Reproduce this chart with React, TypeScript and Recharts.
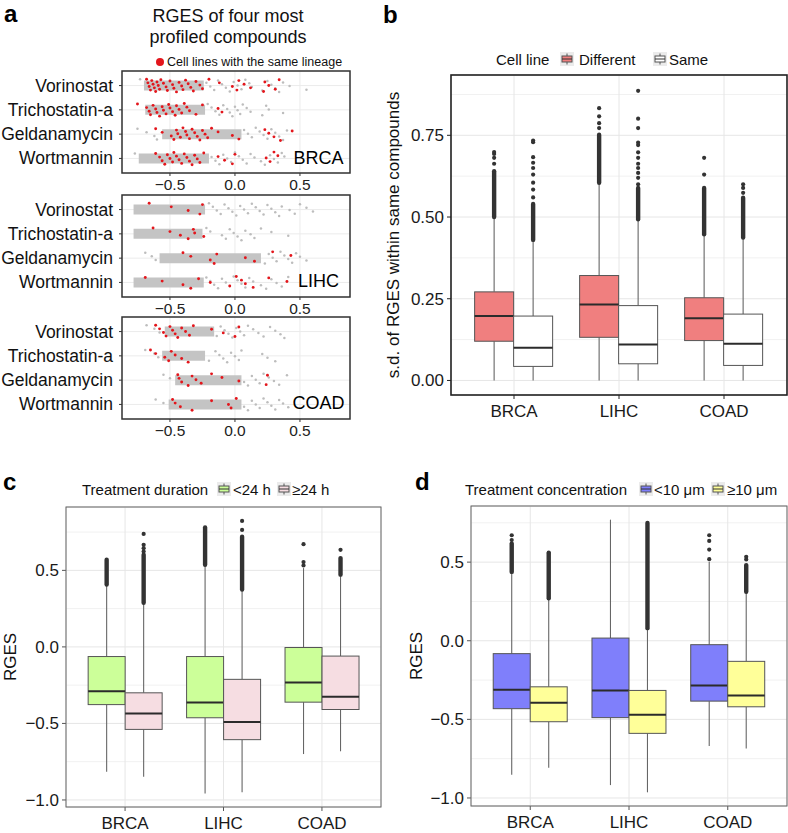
import React from 'react';
import { ComposedChart, ScatterChart, Scatter, Bar, XAxis, YAxis, CartesianGrid } from 'recharts';

const FONT = '"Liberation Sans", Arial, Helvetica, sans-serif';

const compounds = ['Vorinostat', 'Trichostatin-a', 'Geldanamycin', 'Wortmannin'];
const cancers = ['BRCA', 'LIHC', 'COAD'];

// ---- panel a: RGES per compound, dense core range + loose grey points + red (same lineage) points
const brcaCore = [[-0.70, -0.24], [-0.69, -0.23], [-0.56, 0.05], [-0.74, -0.20]];
const brcaGrey = [
  [-0.73, -0.22, -0.19, -0.16, -0.13, -0.10, -0.07, -0.04, -0.01, 0.02, 0.05, 0.08, 0.11, 0.13, 0.21, 0.25, 0.28, 0.31, 0.34, 0.37, 0.42, 0.55],
  [-0.21, -0.18, -0.15, -0.12, -0.09, -0.06, -0.04, -0.02, 0.0, 0.02, 0.04, 0.06, 0.09, 0.12, 0.21, 0.24, 0.26, 0.37],
  [-0.75, -0.68, -0.62, -0.60, 0.07, 0.10, 0.13, 0.16, 0.19, 0.22, 0.25, 0.28, 0.31, 0.34, 0.37, 0.40],
  [-0.77, -0.18, -0.15, -0.12, -0.09, -0.06, -0.03, 0.0, 0.03, 0.06, 0.09, 0.12, 0.15, 0.20, 0.23, 0.27, 0.30, 0.33, 0.36, 0.38],
];
const brcaRed = [
  [-0.68, -0.67, -0.66, -0.65, -0.64, -0.63, -0.62, -0.61, -0.60, -0.59, -0.58, -0.57, -0.55, -0.53, -0.52, -0.50, -0.48, -0.47, -0.45, -0.43, -0.41, -0.40, -0.38, -0.36, -0.34, -0.32, -0.30, -0.27, -0.25, -0.20, -0.12, -0.02, 0.015, 0.03, 0.07, 0.12, 0.22, 0.23, 0.26, 0.31, 0.34],
  [-0.75, -0.68, -0.66, -0.65, -0.63, -0.61, -0.60, -0.58, -0.56, -0.55, -0.53, -0.51, -0.50, -0.48, -0.46, -0.45, -0.43, -0.41, -0.39, -0.37, -0.35, -0.30, -0.25, -0.13, -0.10],
  [-0.61, -0.56, -0.49, -0.47, -0.45, -0.44, -0.42, -0.40, -0.38, -0.37, -0.35, -0.33, -0.31, -0.29, -0.27, -0.25, -0.23, -0.21, -0.18, -0.13, -0.02, 0.03, 0.23, 0.26, 0.30, 0.35, 0.44],
  [-0.61, -0.58, -0.56, -0.54, -0.52, -0.50, -0.48, -0.47, -0.45, -0.43, -0.41, -0.39, -0.37, -0.35, -0.33, -0.31, -0.29, -0.27, -0.24, -0.13, -0.08, -0.02, 0.0, 0.24, 0.27, 0.30, 0.33],
];

const lihcCore = [[-0.78, -0.23], [-0.78, -0.25], [-0.58, 0.20], [-0.78, -0.24]];
const lihcGrey = [
  [-0.20, -0.17, -0.14, -0.11, -0.08, -0.05, -0.02, 0.01, 0.04, 0.07, 0.10, 0.13, 0.16, 0.19, 0.22, 0.25, 0.28, 0.31, 0.34, 0.36, 0.42, 0.46, 0.50, 0.55, 0.60],
  [-0.22, -0.19, -0.10, -0.07, -0.04, -0.01, 0.02, 0.05, 0.08, 0.12, 0.15, 0.20, 0.28, 0.41],
  [-0.69, -0.64, -0.61, 0.23, 0.26, 0.29, 0.32, 0.35, 0.38, 0.41, 0.44, 0.47, 0.50, 0.55],
  [-0.22, -0.19, -0.16, -0.13, -0.10, -0.07, -0.04, -0.01, 0.02, 0.05, 0.08, 0.11, 0.14, 0.20, 0.24, 0.28, 0.32, 0.36, 0.41],
];
const lihcRed = [
  [-0.66, -0.49, -0.36, -0.27, -0.25],
  [-0.63, -0.50, -0.42, -0.36, -0.32, -0.31, -0.24],
  [-0.40, -0.34, -0.19, -0.16, -0.14, 0.08, 0.15, 0.29, 0.43],
  [-0.69, -0.56, -0.40, -0.34, -0.28, -0.19, -0.04, 0.01, 0.05, 0.08, 0.14, 0.26, 0.40],
];

const coadCore = [[-0.54, -0.16], [-0.56, -0.23], [-0.46, 0.05], [-0.51, 0.05]];
const coadGrey = [
  [-0.68, -0.62, -0.58, -0.14, -0.11, -0.08, -0.05, -0.02, 0.01, 0.04, 0.07, 0.10, 0.14, 0.18, 0.22, 0.27, 0.31, 0.35, 0.38],
  [-0.69, -0.62, -0.59, -0.20, -0.15, -0.12, -0.09, -0.06, -0.03, 0.0, 0.03, 0.05, 0.21, 0.25, 0.31],
  [-0.55, -0.50, 0.07, 0.10, 0.13, 0.16, 0.19, 0.22, 0.26, 0.30, 0.34, 0.40],
  [-0.61, -0.55, 0.07, 0.10, 0.13, 0.16, 0.19, 0.22, 0.25, 0.28, 0.31, 0.34, 0.37, 0.41],
];
const coadRed = [
  [-0.61, -0.58, -0.55, -0.53, -0.50, -0.48, -0.46, -0.44, -0.41, -0.38, -0.35, -0.32, -0.18, -0.09, 0.0, 0.03],
  [-0.65, -0.61, -0.54, -0.51, -0.49, -0.46, -0.41, -0.36],
  [-0.44, -0.43, -0.41, -0.36, -0.33, -0.30, -0.26, -0.18, -0.10, 0.03, 0.24, 0.25],
  [-0.48, -0.46, -0.42, -0.33, -0.18, -0.05, -0.03, 0.01],
];

const stripTicks = [-0.5, 0, 0.5];

// ---- boxplots: [whiskerLow, q1, median, q3, whiskerHigh], dense outlier run [lo, hi], single outliers
const sdDiffStats = [[0, 0.12, 0.197, 0.271, 0.5], [0, 0.132, 0.232, 0.321, 0.605], [0, 0.122, 0.19, 0.253, 0.447]];
const sdDiffDense = [[0.5, 0.64], [0.605, 0.752], [0.447, 0.589]];
const sdDiffOut = [[0.663, 0.681, 0.693, 0.699], [0.772, 0.787, 0.808, 0.833], [0.63, 0.681]];
const sdSameStats = [[0, 0.043, 0.1, 0.197, 0.43], [0, 0.051, 0.11, 0.229, 0.493], [0, 0.046, 0.112, 0.203, 0.437]];
const sdSameDense = [[0.43, 0.54], [0.493, 0.589], [0.437, 0.559]];
const sdSameOut = [
  [0.56, 0.584, 0.605, 0.63, 0.65, 0.666, 0.683, 0.729, 0.734],
  [0.6, 0.62, 0.635, 0.65, 0.663, 0.681, 0.698, 0.72, 0.728, 0.772, 0.801, 0.886],
  [0.574, 0.589, 0.6],
];
const sdTicks = [0, 0.25, 0.5, 0.75];
const sdMinor = [0.125, 0.375, 0.625, 0.875];

const durShortStats = [[-0.816, -0.377, -0.29, -0.063, 0.407], [-0.957, -0.463, -0.364, -0.063, 0.537], [-0.70, -0.361, -0.232, -0.004, 0.515]];
const durShortDense = [[0.407, 0.569], [0.537, 0.78], null];
const durShortOut = [[], [], [0.532, 0.554, 0.671]];
const durLongStats = [[-0.849, -0.539, -0.435, -0.30, 0.288], [-0.95, -0.606, -0.491, -0.212, 0.375], [-0.682, -0.409, -0.325, -0.06, 0.472]];
const durLongDense = [[0.288, 0.602], [0.375, 0.72], [0.472, 0.58]];
const durLongOut = [[0.623, 0.645, 0.667, 0.738], [0.764, 0.823], [0.634]];

const concLowStats = [[-0.852, -0.432, -0.312, -0.082, 0.438], [-0.918, -0.489, -0.316, 0.017, 0.77], [-0.669, -0.384, -0.285, -0.025, 0.502]];
const concLowDense = [[0.438, 0.618], null, null];
const concLowOut = [[0.64, 0.671], [], [0.519, 0.58, 0.635, 0.671]];
const concHighStats = [[-0.808, -0.515, -0.394, -0.293, 0.27], [-0.964, -0.589, -0.47, -0.316, 0.08], [-0.685, -0.42, -0.348, -0.131, 0.312]];
const concHighDense = [[0.27, 0.555], [0.08, 0.749], [0.312, 0.481]];
const concHighOut = [[0.561], [], [0.517, 0.534]];

const rgesTicks = [-1, -0.5, 0, 0.5];
const rgesMinor = [-0.75, -0.25, 0.25, 0.75];

type BoxSeries = { stats: number[]; dense: number[] | null; out: number[] };

const fmt = (digits: number) => (v: number) => (v < 0 ? '\u2212' : '') + Math.abs(v).toFixed(digits);

// deterministic vertical spread for the strip plot
const jitter = (i: number) => ((((i * 37) % 29) / 28) - 0.5) * 0.52;

const toPoints = (rows: number[][]) =>
  rows.flatMap((vals, r) => vals.map((x, i) => ({ x, y: r + 1 + jitter(i + r * 11) })));

const GreyDot = (p: any) => <circle cx={p.cx} cy={p.cy} r={1.25} fill="#bdbdbd" />;
const RedDot = (p: any) => <circle cx={p.cx} cy={p.cy} r={1.45} fill="#e3161c" />;

const CompoundTick = (p: any) => (
  <text x={p.x} y={p.y} dy={6} textAnchor="end" fontSize={17.5} fill="#111" fontFamily={FONT}>
    {compounds[p.payload.value - 1]}
  </text>
);

function StripPanel({ top, core, grey, red }: { top: number; core: number[][]; grey: number[][]; red: number[][] }) {
  return (
    <div style={{ position: 'absolute', left: 0, top: top - 4 }}>
      <ScatterChart width={360} height={130} margin={{ top: 4, right: 10, bottom: 0, left: 0 }}>
        <CartesianGrid stroke="#ebebeb" />
        <XAxis
          type="number"
          dataKey="x"
          domain={[-0.869, 0.885]}
          ticks={stripTicks}
          interval={0}
          allowDataOverflow
          tickFormatter={fmt(1)}
          tickSize={3}
          tickMargin={3}
          height={24}
          axisLine={false}
          tickLine={{ stroke: '#333' }}
          tick={{ fontSize: 15.5, fill: '#222', fontFamily: FONT }}
        />
        <YAxis
          type="number"
          dataKey="y"
          domain={[0.4, 4.6]}
          reversed
          ticks={[1, 2, 3, 4]}
          interval={0}
          allowDataOverflow
          width={122}
          tickSize={3}
          tickMargin={6}
          axisLine={false}
          tickLine={{ stroke: '#333' }}
          tick={CompoundTick}
        />
        {core.map(([lo, hi], r) => (
          <Scatter
            key={'core' + r}
            data={[{ x: lo, y: r + 1 }, { x: hi, y: r + 1 }]}
            line={{ stroke: '#c4c4c4', strokeWidth: 10 }}
            shape={() => <g />}
            isAnimationActive={false}
          />
        ))}
        <Scatter data={toPoints(grey)} shape={GreyDot} isAnimationActive={false} />
        <Scatter data={toPoints(red)} shape={RedDot} isAnimationActive={false} />
      </ScatterChart>
    </div>
  );
}

const topOf = (s: BoxSeries) => Math.max(s.stats[4], s.dense ? s.dense[1] : -Infinity, ...s.out);

const boxShape = (side: 'left' | 'right', fill: string) => (props: any) => {
  const { x, y, width, height, payload } = props;
  const s: BoxSeries = payload[side];
  const lo = s.stats[0];
  const hi = topOf(s);
  const toY = (v: number) => y + ((hi - v) / (hi - lo)) * height;
  const cx = x + width / 2;
  const [wl, q1, med, q3, wh] = s.stats;
  return (
    <g>
      <line x1={cx} x2={cx} y1={toY(wl)} y2={toY(q1)} stroke="#666" strokeWidth={1.1} />
      <line x1={cx} x2={cx} y1={toY(q3)} y2={toY(wh)} stroke="#666" strokeWidth={1.1} />
      <rect x={x} y={toY(q3)} width={width} height={toY(q1) - toY(q3)} fill={fill} stroke="#555" strokeWidth={1} />
      <line x1={x} x2={x + width} y1={toY(med)} y2={toY(med)} stroke="#2b2b2b" strokeWidth={2} />
      {s.dense && (
        <rect
          x={cx - 2.2}
          width={4.4}
          y={toY(s.dense[1]) - 2.2}
          height={toY(s.dense[0]) - toY(s.dense[1]) + 4.4}
          rx={2.2}
          fill="#333"
        />
      )}
      {s.out.map((v, i) => (
        <circle key={i} cx={cx} cy={toY(v)} r={2.1} fill="#333" />
      ))}
    </g>
  );
};

const buildRows = (
  lStats: number[][], lDense: (number[] | null)[], lOut: number[][],
  rStats: number[][], rDense: (number[] | null)[], rOut: number[][],
) =>
  cancers.map((cancer, i) => ({
    cancer,
    left: { stats: lStats[i], dense: lDense[i], out: lOut[i] },
    right: { stats: rStats[i], dense: rDense[i], out: rOut[i] },
  }));

function BoxPanel(props: {
  left: number; top: number; width: number; height: number; yAxisWidth: number; marginRight: number; plotW: number;
  domain: number[]; ticks: number[]; minor: number[]; digits: number; rows: any[]; fills: string[]; tickColor: string;
}) {
  const { left, top, width, height, yAxisWidth, marginRight, plotW, domain, ticks, minor, digits, rows, fills, tickColor } = props;
  const pad = plotW * 0.03125;
  const axisTick = { fontSize: 17, fill: '#1a1a1a', fontFamily: FONT };
  return (
    <div style={{ position: 'absolute', left, top }}>
      <ComposedChart
        width={width}
        height={height}
        data={rows}
        margin={{ top: 5, right: marginRight, bottom: 0, left: 0 }}
        barGap={0}
        barCategoryGap="12.5%"
      >
        <YAxis yAxisId="minor" hide type="number" domain={domain} ticks={minor} allowDataOverflow />
        <CartesianGrid yAxisId="minor" vertical={false} stroke="#f1f1f1" />
        <CartesianGrid stroke="#e6e6e6" />
        <XAxis
          dataKey="cancer"
          type="category"
          padding={{ left: pad, right: pad }}
          height={30}
          tickSize={4}
          tickMargin={6}
          axisLine={false}
          tickLine={{ stroke: tickColor }}
          tick={axisTick}
          interval={0}
        />
        <YAxis
          type="number"
          domain={domain}
          ticks={ticks}
          interval={0}
          allowDataOverflow
          tickFormatter={fmt(digits)}
          width={yAxisWidth}
          tickSize={4}
          tickMargin={3}
          axisLine={false}
          tickLine={{ stroke: tickColor }}
          tick={axisTick}
        />
        <Bar
          dataKey={(d: any) => [d.left.stats[0], topOf(d.left)]}
          shape={boxShape('left', fills[0])}
          isAnimationActive={false}
        />
        <Bar
          dataKey={(d: any) => [d.right.stats[0], topOf(d.right)]}
          shape={boxShape('right', fills[1])}
          isAnimationActive={false}
        />
      </ComposedChart>
    </div>
  );
}

const KeyGlyph = ({ x, y, fill }: { x: number; y: number; fill: string }) => (
  <g>
    <rect x={x} y={y} width={14} height={14} fill="#ebebeb" />
    <line x1={x + 7} x2={x + 7} y1={y + 1.5} y2={y + 12.5} stroke="#555" />
    <rect x={x + 2} y={y + 4} width={10} height={6} fill={fill} stroke="#555" />
    <line x1={x + 2} x2={x + 12} y1={y + 7} y2={y + 7} stroke="#333" />
  </g>
);

const Border = ({ x, y, w, h, color, sw }: { x: number; y: number; w: number; h: number; color: string; sw: number }) => (
  <rect x={x} y={y} width={w} height={h} fill="none" stroke={color} strokeWidth={sw} />
);

export default function App() {
  const sdRows = buildRows(sdDiffStats, sdDiffDense, sdDiffOut, sdSameStats, sdSameDense, sdSameOut);
  const durRows = buildRows(durShortStats, durShortDense, durShortOut, durLongStats, durLongDense, durLongOut);
  const concRows = buildRows(concLowStats, concLowDense, concLowOut, concHighStats, concHighDense, concHighOut);

  return (
    <div style={{ position: 'absolute', left: 0, top: 0, width: 788, height: 833, background: '#fff', fontFamily: FONT }}>
      <StripPanel top={71} core={brcaCore} grey={brcaGrey} red={brcaRed} />
      <StripPanel top={195} core={lihcCore} grey={lihcGrey} red={lihcRed} />
      <StripPanel top={317} core={coadCore} grey={coadGrey} red={coadRed} />

      <BoxPanel
        left={380} top={70} width={408} height={355} yAxisWidth={71} marginRight={1} plotW={336}
        domain={[-0.0445, 0.9345]} ticks={sdTicks} minor={sdMinor} digits={2}
        rows={sdRows} fills={['#f07f7f', '#ffffff']} tickColor="#222"
      />
      <BoxPanel
        left={0} top={502} width={390} height={335} yAxisWidth={66} marginRight={9} plotW={315}
        domain={[-1.046, 0.914]} ticks={rgesTicks} minor={rgesMinor} digits={1}
        rows={durRows} fills={['#ccff99', '#f6dde2']} tickColor="#555"
      />
      <BoxPanel
        left={400} top={501} width={388} height={335} yAxisWidth={71} marginRight={1} plotW={316}
        domain={[-1.051, 0.857]} ticks={rgesTicks} minor={rgesMinor} digits={1}
        rows={concRows} fills={['#7f7ffb', '#ffff99']} tickColor="#555"
      />

      <svg width={788} height={833} style={{ position: 'absolute', left: 0, top: 0, pointerEvents: 'none' }} fontFamily={FONT}>
        <Border x={122} y={71} w={228} h={102} color="#333" sw={1.5} />
        <Border x={122} y={195} w={228} h={102} color="#333" sw={1.5} />
        <Border x={122} y={317} w={228} h={102} color="#333" sw={1.5} />
        <Border x={451} y={75} w={336} h={320} color="#222" sw={1.6} />
        <Border x={66} y={507} w={315} h={300} color="#666" sw={1} />
        <Border x={471} y={506} w={316} h={300} color="#666" sw={1} />

        <text x={4} y={22} fontSize={24} fontWeight="bold" fill="#000">a</text>
        <text x={383} y={23} fontSize={24} fontWeight="bold" fill="#000">b</text>
        <text x={3} y={490} fontSize={24} fontWeight="bold" fill="#000">c</text>
        <text x={415} y={490} fontSize={24} fontWeight="bold" fill="#000">d</text>

        <text x={228} y={22} fontSize={18} textAnchor="middle" fill="#111">RGES of four most</text>
        <text x={228} y={43} fontSize={18} textAnchor="middle" fill="#111">profiled compounds</text>
        <circle cx={160} cy={62} r={4} fill="#e3161c" />
        <text x={167} y={66} fontSize={12.5} fill="#111">Cell lines with the same lineage</text>

        <text x={318.5} y={163.5} fontSize={18} textAnchor="middle" fill="#000">BRCA</text>
        <text x={318.5} y={287} fontSize={18} textAnchor="middle" fill="#000">LIHC</text>
        <text x={318.5} y={408.5} fontSize={18} textAnchor="middle" fill="#000">COAD</text>

        <text x={496} y={65} fontSize={15} fill="#111">Cell line</text>
        <KeyGlyph x={560} y={52} fill="#f07f7f" />
        <text x={579} y={65} fontSize={15} fill="#111">Different</text>
        <KeyGlyph x={653} y={52} fill="#ffffff" />
        <text x={669} y={65} fontSize={15} fill="#111">Same</text>

        <text x={82} y={495} fontSize={15} fill="#111">Treatment duration</text>
        <KeyGlyph x={217} y={482} fill="#ccff99" />
        <text x={233} y={495} fontSize={15} fill="#111">{'<24 h'}</text>
        <KeyGlyph x={277} y={482} fill="#f6dde2" />
        <text x={292} y={495} fontSize={15} fill="#111">{'\u226524 h'}</text>

        <text x={465} y={495} fontSize={15} fill="#111">Treatment concentration</text>
        <KeyGlyph x={639} y={482} fill="#7f7ffb" />
        <text x={654} y={495} fontSize={15} fill="#111">{'<10 \u03bcm'}</text>
        <KeyGlyph x={711} y={482} fill="#ffff99" />
        <text x={727} y={495} fontSize={15} fill="#111">{'\u226510 \u03bcm'}</text>

        <text transform="translate(399,235) rotate(-90)" fontSize={17} textAnchor="middle" fill="#111">
          s.d. of RGES within same compounds
        </text>
        <text transform="translate(15.5,657) rotate(-90)" fontSize={17} textAnchor="middle" fill="#111">RGES</text>
        <text transform="translate(421.5,656) rotate(-90)" fontSize={17} textAnchor="middle" fill="#111">RGES</text>
      </svg>
    </div>
  );
}
